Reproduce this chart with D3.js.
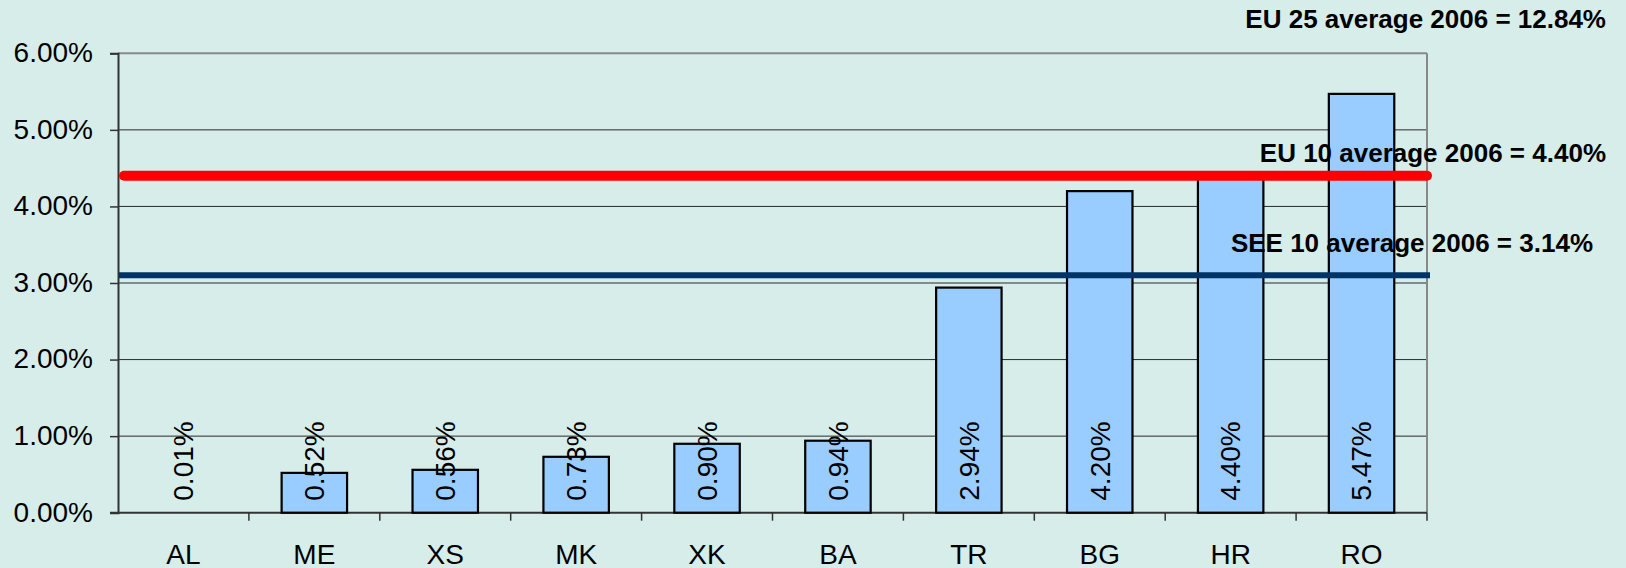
<!DOCTYPE html>
<html><head><meta charset="utf-8">
<script src="https://cdn.jsdelivr.net/npm/d3@7"></script>
<style>
html,body{margin:0;padding:0;background:#d7edea;}
svg{display:block;font-family:Arial,"Liberation Sans",sans-serif;}
</style></head>
<body>
<svg id="c" width="1626" height="568"></svg>
<script>
const categories = ["AL","ME","XS","MK","XK","BA","TR","BG","HR","RO"];
const values = [0.01,0.52,0.56,0.73,0.90,0.94,2.94,4.20,4.40,5.47];
const yTicks = [0,1,2,3,4,5,6];
const eu10 = 4.40;     // red line
const see10 = 3.10;    // blue line as drawn
const annotations = [
  {text:"EU 25 average 2006 = 12.84%"},
  {text:"EU 10 average 2006 = 4.40%"},
  {text:"SEE 10 average 2006 = 3.14%"}
];

const svg = d3.select("#c");
const W=1626,H=568;
svg.append("rect").attr("width",W).attr("height",H).attr("fill","#d7edea");
const L=118, R=1427, T=53.3, B=512.7;
const x = d3.scaleBand().domain(categories).range([L,R]).paddingInner(0.5).paddingOuter(0.25);
const y = d3.scaleLinear().domain([0,6]).range([B,T]);

// gridlines
svg.append("g").selectAll("line").data(yTicks.filter(d=>d>0&&d<6)).join("line")
  .attr("x1",L).attr("x2",R).attr("y1",d=>y(d)).attr("y2",d=>y(d))
  .attr("stroke","#2a2a2a").attr("stroke-width",1);
// top and right border
svg.append("line").attr("x1",L).attr("x2",R).attr("y1",y(6)).attr("y2",y(6)).attr("stroke","#888").attr("stroke-width",2);
svg.append("line").attr("x1",R).attr("x2",R).attr("y1",y(6)).attr("y2",B).attr("stroke","#888").attr("stroke-width",2);

// y axis
const yAxis = d3.axisLeft(y).tickValues(yTicks).tickSize(8).tickFormat(d=>d3.format(".2f")(d)+"%");
const gy = svg.append("g").attr("transform",`translate(${L},0)`).call(yAxis);
gy.select(".domain").attr("stroke","#333").attr("stroke-width",2);
gy.selectAll(".tick line").attr("stroke","#333").attr("stroke-width",1.5);
gy.selectAll(".tick text").attr("font-size",28).attr("fill","#000").attr("x",-25).attr("dy","0.3em")
  .attr("font-family","Arial,'Liberation Sans',sans-serif");

// x axis
const xb = d3.scaleLinear().domain([0,categories.length]).range([L,R]);
const gx = svg.append("g").attr("transform",`translate(0,${B})`);
gx.append("line").attr("x1",L-8).attr("x2",R).attr("stroke","#333").attr("stroke-width",2);
gx.selectAll("line.t").data(d3.range(1,categories.length+1)).join("line").attr("class","t")
  .attr("x1",d=>xb(d)).attr("x2",d=>xb(d)).attr("y1",0).attr("y2",8).attr("stroke","#333").attr("stroke-width",1.5);
gx.selectAll("text").data(categories).join("text")
  .attr("x",d=>x(d)+x.bandwidth()/2).attr("y",51).attr("text-anchor","middle")
  .attr("font-size",28).attr("fill","#000").text(d=>d);

// bars (bars thinner than a pixel are not visible in the original)
svg.append("g").selectAll("rect").data(values.map((v,i)=>({v,c:categories[i]})).filter(d=>B-y(d.v)>=2)).join("rect")
  .attr("x",d=>x(d.c)).attr("width",x.bandwidth())
  .attr("y",d=>y(d.v)).attr("height",d=>B-y(d.v))
  .attr("fill","#99ccff").attr("stroke","#000").attr("stroke-width",2.2);

// value labels
svg.append("g").selectAll("text").data(values).join("text")
  .attr("transform",(d,i)=>`translate(${x(categories[i])+x.bandwidth()/2},${B-12}) rotate(-90)`)
  .attr("dy","0.35em").attr("font-size",28).attr("fill","#000")
  .text(d=>d3.format(".2f")(d)+"%");

// average lines
svg.append("line").attr("x1",L+6).attr("x2",R).attr("y1",y(eu10)).attr("y2",y(eu10))
  .attr("stroke","#ff0000").attr("stroke-width",10).attr("stroke-linecap","round");
svg.append("line").attr("x1",L+1).attr("x2",R+3).attr("y1",y(see10)).attr("y2",y(see10))
  .attr("stroke","#003366").attr("stroke-width",6);

// annotations
const annPos = [{x:1606,y:28},{x:1606,y:162},{x:1593,y:252}];
svg.append("g").selectAll("text").data(annotations).join("text")
  .attr("x",(d,i)=>annPos[i].x).attr("y",(d,i)=>annPos[i].y)
  .attr("text-anchor","end").attr("font-weight","bold").attr("font-size",26).attr("fill","#000")
  .text(d=>d.text);
</script>
</body></html>
